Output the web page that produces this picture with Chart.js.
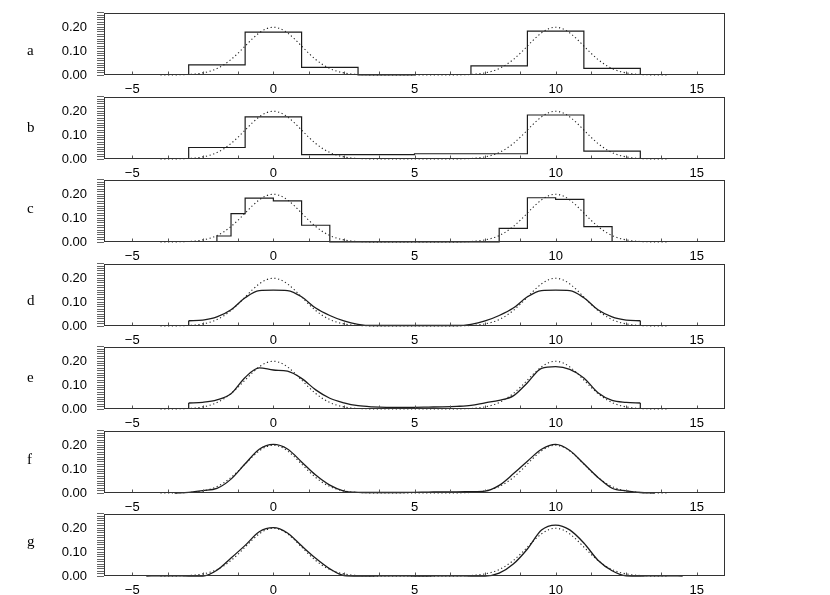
<!DOCTYPE html>
<html><head><meta charset="utf-8">
<script src="https://cdn.jsdelivr.net/npm/chart.js@4.4.1/dist/chart.umd.min.js"></script>
<style>
html,body{margin:0;padding:0;background:#fff;width:830px;height:595px;overflow:hidden;position:relative;}
canvas{position:absolute;left:0;}
.lab{position:absolute;left:27px;font:15px "Liberation Serif","Times New Roman",serif;line-height:15px;color:#000;}
</style></head><body>
<script>
// ---------- data ----------
const panelLetters = ['a','b','c','d','e','f','g'];

// reference (dotted) density
const refX = [-4,-3.75,-3.5,-3.25,-3,-2.75,-2.5,-2.25,-2,-1.75,-1.5,-1.25,-1,-0.75,-0.5,-0.25,0,0.25,0.5,0.75,1,1.25,1.5,1.75,2,2.25,2.5,2.75,3,3.25,3.5,3.75,4,4.25,4.5,4.75,5,5.25,5.5,5.75,6,6.25,6.5,6.75,7,7.25,7.5,7.75,8,8.25,8.5,8.75,9,9.25,9.5,9.75,10,10.25,10.5,10.75,11,11.25,11.5,11.75,12,12.25,12.5,12.75,13,13.25,13.5,13.75,14];
const refY = [0.0001,0.0002,0.0004,0.0010,0.0022,0.0045,0.0088,0.0159,0.0270,0.0431,0.0648,0.0913,0.1210,0.1506,0.1760,0.1933,0.1995,0.1933,0.1760,0.1506,0.1210,0.0913,0.0648,0.0431,0.0270,0.0159,0.0088,0.0045,0.0022,0.0010,0.0004,0.0002,0.0001,0,0,0,0,0,0,0,0.0001,0.0002,0.0004,0.0010,0.0022,0.0045,0.0088,0.0159,0.0270,0.0431,0.0648,0.0913,0.1210,0.1506,0.1760,0.1933,0.1995,0.1933,0.1760,0.1506,0.1210,0.0913,0.0648,0.0431,0.0270,0.0159,0.0088,0.0045,0.0022,0.0010,0.0004,0.0002,0.0001];

// histograms (bin edges and heights)
const aEdges = [-3,-1,1,3,5,7,9,11,13];
const aValues = [0.042,0.179,0.032,0,0.002,0.038,0.183,0.028];
const bEdges = [-3,-1,1,5,9,11,13];
const bValues = [0.048,0.176,0.018,0.022,0.184,0.033];
const cEdges = [-2,-1.5,-1,0,1,2,8,9,10,11,12];
const cValues = [0.025,0.119,0.183,0.172,0.070,0,0.057,0.185,0.178,0.064];

// smooth estimates
const deX = [-3,-2.5,-2,-1.5,-1,-0.5,0,0.5,1,1.5,2,2.5,3,3.5,4,4.5,5,5.5,6,6.5,7,7.5,8,8.5,9,9.5,10,10.5,11,11.5,12,12.5,13];
const dValues = [0.022,0.025,0.038,0.068,0.118,0.148,0.150,0.148,0.122,0.075,0.044,0.021,0.007,0.002,0.002,0.002,0.002,0.002,0.002,0.002,0.007,0.021,0.044,0.075,0.122,0.148,0.150,0.148,0.118,0.068,0.038,0.025,0.022];
const eValues = [0.025,0.028,0.038,0.064,0.132,0.172,0.163,0.158,0.128,0.080,0.045,0.026,0.014,0.009,0.007,0.007,0.007,0.008,0.009,0.011,0.015,0.026,0.036,0.055,0.110,0.170,0.177,0.166,0.130,0.068,0.036,0.028,0.025];
const fX = [-3.5,-3,-2.5,-2,-1.5,-1,-0.5,0,0.5,1,1.5,2,2.5,3,3.5,4,4.5,5,5.5,6,6.5,7,7.5,8,8.5,9,9.5,10,10.5,11,11.5,12,12.5,13,13.5];
const fValues = [0,0.003,0.010,0.019,0.058,0.122,0.183,0.203,0.184,0.130,0.075,0.033,0.008,0.003,0.002,0.002,0.002,0.003,0.004,0.005,0.005,0.006,0.008,0.032,0.080,0.133,0.183,0.203,0.178,0.122,0.065,0.020,0.009,0.002,0];
const gX = [-4.5,-4,-3.5,-3,-2.5,-2,-1.5,-1,-0.5,0,0.5,1,1.5,2,2.5,3,3.5,4,4.5,5,5.5,6,6.5,7,7.5,8,8.5,9,9.5,10,10.5,11,11.5,12,12.5,13,13.5,14,14.5];
const gValues = [0,0.001,0.001,0,0,0.024,0.075,0.128,0.185,0.202,0.180,0.126,0.074,0.030,0.002,0,0,0.001,0.001,0,0,0.001,0.001,0,0,0.012,0.050,0.113,0.192,0.213,0.193,0.138,0.066,0.022,0.001,0,0.001,0.001,0];

// ---------- helpers ----------
const pts = (xs, ys) => xs.map((x, k) => ({x, y: ys[k]}));
function histPoints(edges, vals) {
  const p = [{x: edges[0], y: 0}];
  vals.forEach((v, k) => p.push({x: edges[k], y: v}));
  p.push({x: edges[edges.length - 1], y: vals[vals.length - 1]});
  p.push({x: edges[edges.length - 1], y: 0});
  return p;
}
const LINE = '#1c1c1c';
const refSet = () => ({data: pts(refX, refY), borderColor: '#222', borderWidth: 1.1, borderDash: [1.2, 2.6], cubicInterpolationMode: 'monotone', pointRadius: 0, clip: 3});
const histSet = (e, v) => ({data: histPoints(e, v), borderColor: LINE, borderWidth: 1.2, stepped: 'before', pointRadius: 0, clip: 3});
const smoothSet = (xs, ys) => ({data: pts(xs, ys), borderColor: LINE, borderWidth: 1.3, cubicInterpolationMode: 'monotone', pointRadius: 0, clip: 3});
const edgeSets = (xs, ys) => [
  {data: [{x: xs[0], y: 0}, {x: xs[0], y: ys[0]}], borderColor: LINE, borderWidth: 1.2, pointRadius: 0, clip: 3},
  {data: [{x: xs[xs.length-1], y: ys[ys.length-1]}, {x: xs[xs.length-1], y: 0}], borderColor: LINE, borderWidth: 1.2, pointRadius: 0, clip: 3}
];

const panels = [
  [histSet(aEdges, aValues), refSet()],
  [histSet(bEdges, bValues), refSet()],
  [histSet(cEdges, cValues), refSet()],
  [smoothSet(deX, dValues), ...edgeSets(deX, dValues), refSet()],
  [smoothSet(deX, eValues), ...edgeSets(deX, eValues), refSet()],
  [smoothSet(fX, fValues), refSet()],
  [smoothSet(gX, gValues), refSet()]
];

const framePlugin = {
  id: 'frame',
  afterDatasetsDraw(chart) {
    const {ctx, chartArea: a} = chart;
    const x = chart.scales.x;
    ctx.save();
    const l = Math.round(a.left) + 0.5, t = Math.round(a.top) + 0.5, r = Math.round(a.right) - 0.5, b = Math.round(a.bottom) - 0.5;
    ctx.strokeStyle = '#555';
    ctx.lineWidth = 1;
    ctx.beginPath();
    x.ticks.forEach(tk => { const px = Math.round(x.getPixelForValue(tk.value)) + 0.5; ctx.moveTo(px, b); ctx.lineTo(px, b - 3); });
    ctx.stroke();
    ctx.strokeStyle = '#333';
    ctx.strokeRect(l, t, r - l, b - t);
    ctx.restore();
  }
};

const FONT = {family: '"Liberation Sans", Arial, Helvetica, sans-serif', size: 13};
const isMult = (v, m) => Math.abs(v / m - Math.round(v / m)) < 1e-6;
const labelOffsets = [38.4, 32, 30, 37.9, 32, 30, 29];
const PLOT_H = 62;
const CANVAS_H = 110;

panels.forEach((datasets, i) => {
  const panelTop = 13.3 + 83.5 * i;
  const canvas = document.createElement('canvas');
  canvas.width = 830; canvas.height = CANVAS_H;
  canvas.style.width = '830px'; canvas.style.height = CANVAS_H + 'px';
  document.body.appendChild(canvas);
  const chart = new Chart(canvas, {
    type: 'line',
    data: {datasets},
    options: {
      responsive: false, maintainAspectRatio: false, animation: false, devicePixelRatio: 1,
      layout: {padding: {top: 0, left: 0, right: 105, bottom: 0}},
      plugins: {legend: {display: false}, tooltip: {enabled: false}},
      elements: {point: {radius: 0}},
      scales: {
        x: {
          type: 'linear', min: -6, max: 16,
          border: {display: false},
          grid: {display: false, drawTicks: false, tickLength: 0},
          ticks: {stepSize: 1.25, includeBounds: false, autoSkip: false, maxRotation: 0, padding: 6.5, color: '#000', font: FONT,
            callback: v => isMult(v, 5) ? (v < 0 ? '\u2212' + Math.abs(v) : String(Math.round(v))) : ''},
          afterFit: s => { s.height = 24; }
        },
        y: {
          type: 'linear', min: 0, max: 0.26,
          border: {display: false},
          grid: {drawOnChartArea: false, drawTicks: true, tickLength: 7, color: '#666'},
          ticks: {stepSize: 0.01, autoSkip: false, padding: 10, color: '#000', font: FONT,
            callback: v => isMult(v, 0.1) ? v.toFixed(2) : ''},
          afterFit: s => { s.width = 104; }
        }
      }
    },
    plugins: [framePlugin]
  });
  // make the plot area exactly PLOT_H tall
  for (let k = 0; k < 3; k++) {
    const h = chart.chartArea.bottom - chart.chartArea.top;
    if (Math.abs(h - PLOT_H) < 0.01) break;
    chart.resize(830, Math.round(chart.height + (PLOT_H - h)));
  }
  // align chart area top with panel top
  canvas.style.top = (Math.round(panelTop) - chart.chartArea.top) + 'px';

  const lab = document.createElement('div');
  lab.className = 'lab';
  lab.textContent = panelLetters[i];
  lab.style.top = (panelTop + labelOffsets[i] - 9) + 'px';
  document.body.appendChild(lab);
});
</script>
</body></html>
